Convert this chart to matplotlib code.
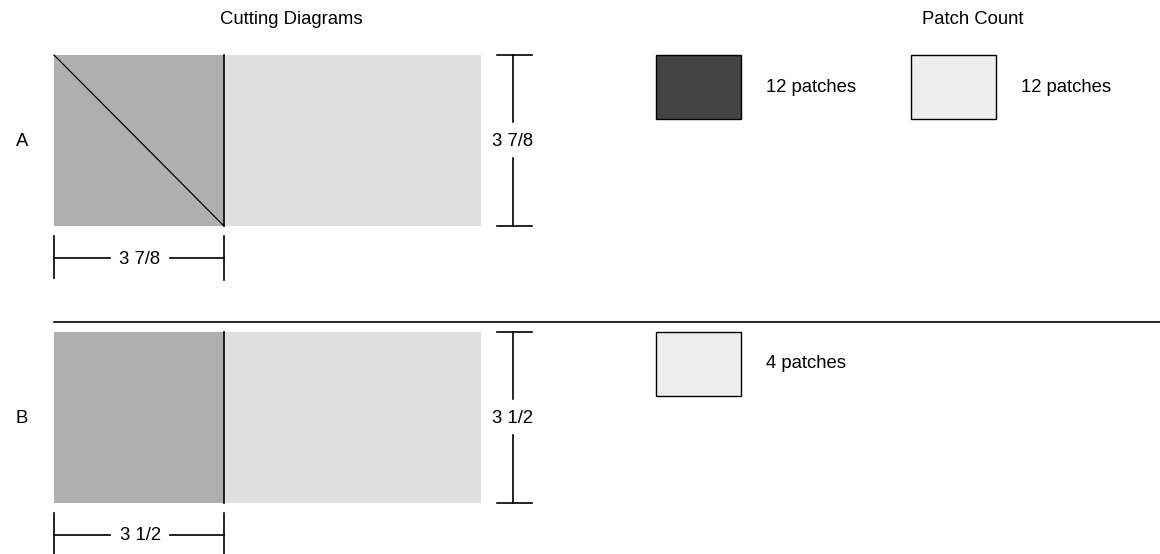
import matplotlib.pyplot as plt
from matplotlib.patches import Rectangle

# data
rows = ["A", "B"]
sizes = ["3 7/8", "3 1/2"]
diagonal = [True, False]
patch_counts = [[12, 12], [4]]
patch_colors = [["#444444", "#EEEEEE"], ["#EEEEEE"]]

plt.rcParams["font.family"] = ["Liberation Sans", "DejaVu Sans"]
fs = 13.3

fig = plt.figure(figsize=(11.6, 5.54), dpi=100)
ax = fig.add_axes([0, 0, 1, 1])
ax.set_xlim(0, 1160)
ax.set_ylim(554, 0)
ax.axis("off")

ax.text(291, 20, "Cutting Diagrams", ha="center", va="center", fontsize=fs)
ax.text(973, 20, "Patch Count", ha="center", va="center", fontsize=fs)

row_top = [55, 332]
h = 171
for i, name in enumerate(rows):
    top = row_top[i]
    bot = top + h
    mid = top + h / 2
    ax.text(22, mid + 1, name, ha="center", va="center", fontsize=fs)
    # strip
    ax.add_patch(Rectangle((54, top), 170, h, facecolor="#AFAFAF", edgecolor="none"))
    ax.add_patch(Rectangle((224, top), 257, h, facecolor="#E0E0E0", edgecolor="none"))
    ax.plot([224, 224], [top, bot], color="black", lw=1.2)
    if diagonal[i]:
        ax.plot([54, 224], [top, bot], color="black", lw=0.9)
    # vertical dimension
    ax.plot([497, 532], [top, top], color="black", lw=1.2)
    ax.plot([497, 532], [bot, bot], color="black", lw=1.2)
    ax.plot([513, 513], [top, mid - 19], color="black", lw=1.2)
    ax.plot([513, 513], [mid + 17, bot], color="black", lw=1.2)
    ax.text(513, mid + 1, sizes[i], ha="center", va="center", fontsize=fs)
    # horizontal dimension
    hy = bot + 32
    ax.plot([54, 54], [bot + 10, bot + 52], color="black", lw=1.2)
    ax.plot([224, 224], [bot + 10, bot + 54], color="black", lw=1.2)
    ax.plot([54, 110], [hy, hy], color="black", lw=1.2)
    ax.plot([170, 224], [hy, hy], color="black", lw=1.2)
    ax.text(140, hy + 1, sizes[i], ha="center", va="center", fontsize=fs)
    # patch count
    for j, (n, c) in enumerate(zip(patch_counts[i], patch_colors[i])):
        x0 = 656 + j * 255
        ax.add_patch(Rectangle((x0, top), 85, 64, facecolor=c, edgecolor="black", lw=1.0))
        ax.text(x0 + 110, top + 32, f"{n} patches", ha="left", va="center", fontsize=fs)

ax.plot([54, 1160], [322, 322], color="black", lw=1.2)

fig.savefig("out.png", dpi=100)
